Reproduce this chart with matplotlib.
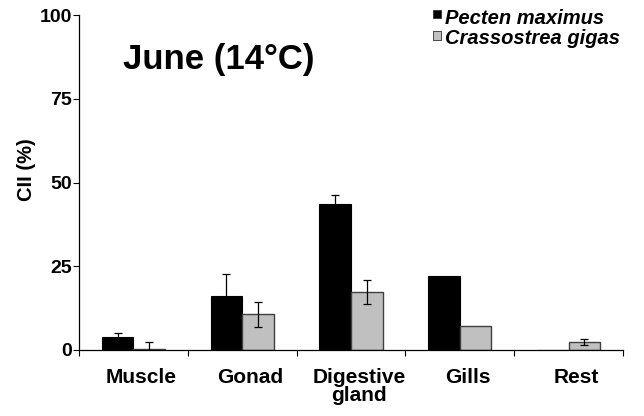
import matplotlib
matplotlib.use("Agg")
import matplotlib.pyplot as plt
import matplotlib.transforms as mtransforms
import numpy as np

categories = ["Muscle", "Gonad", "Digestive\ngland", "Gills", "Rest"]
pecten = [3.9, 16.2, 43.6, 22.0, 0.0]
pecten_err = [1.3, 6.6, 2.6, 0.0, 0.0]
crass = [0.3, 10.6, 17.3, 7.1, 2.3]
crass_err = [2.2, 3.8, 3.7, 0.0, 0.95]
yticks = [0, 25, 50, 75, 100]

plt.rcParams['font.family'] = ['Liberation Sans', 'DejaVu Sans']

W, H = 644, 416
fig = plt.figure(figsize=(W/100, H/100), dpi=100)
ax = fig.add_axes([79/W, 1 - 350/H, (623-79)/W, (350-15)/H])

x = np.arange(len(categories))
w = 0.29
ax.bar(x - w/2, pecten, w, color='black', edgecolor='black', linewidth=0.8, zorder=2)
ax.bar(x + w/2, crass, w, color='#c0c0c0', edgecolor='#404040', linewidth=1.0, zorder=2)
pe = [(i - w/2, v, e) for i, (v, e) in enumerate(zip(pecten, pecten_err)) if e > 0]
ce = [(i + w/2, v, e) for i, (v, e) in enumerate(zip(crass, crass_err)) if e > 0]
for pts in (pe, ce):
    xs, vs, es = zip(*pts)
    ax.errorbar(xs, vs, yerr=es, fmt='none', ecolor='black', elinewidth=0.9,
                capsize=2.6, capthick=0.9, zorder=3)

ax.set_xlim(-0.5, len(categories) - 0.5)
ax.set_ylim(0, 100)
ax.set_yticks(yticks)
ax.set_yticklabels([str(t) for t in yticks], fontsize=14, fontweight='bold')
ax.set_xticks(np.arange(len(categories) + 1) - 0.5)
ax.set_xticklabels([])
ax.tick_params(axis='y', direction='out', length=4, width=0.8, pad=1)
ax.tick_params(axis='x', direction='out', length=4, width=0.8)

off = mtransforms.ScaledTranslation(8/100, 0, fig.dpi_scale_trans)
for i, c in enumerate(categories):
    ax.text(i, -5.5, c, ha='center', va='top', fontsize=15, fontweight='bold',
            linespacing=0.88, transform=ax.transData + off, clip_on=False)
ax.spines['top'].set_visible(False)
ax.spines['right'].set_visible(False)
ax.spines['left'].set_linewidth(0.9)
ax.spines['bottom'].set_linewidth(0.9)

fig.text(27/W, 1 - 170/H, "CII (%)", rotation=90, ha='center', va='center',
         fontsize=14.5, fontweight='bold')
fig.text(123/W, 1 - 68.5/H, "June (14°C)", ha='left', va='baseline',
         fontsize=25, fontweight='bold')

# legend
for yb, mt, col, lab in [(23.5, 10, 'black', 'Pecten maximus'),
                         (44.5, 31.5, '#c0c0c0', 'Crassostrea gigas')]:
    fig.patches.append(plt.Rectangle((433/W, 1 - (mt + 8)/H), 8/W, 8/H,
                                     transform=fig.transFigure, facecolor=col,
                                     edgecolor='#303030', linewidth=0.6))
    fig.text(445/W, 1 - yb/H, lab, ha='left', va='baseline', fontsize=14.5,
             fontweight='bold', style='italic')

fig.savefig("out.png", dpi=100)
